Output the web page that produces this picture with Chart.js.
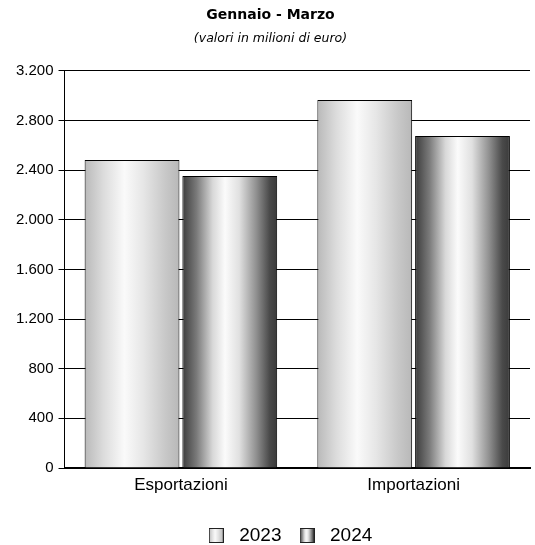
<!DOCTYPE html>
<html>
<head>
<meta charset="utf-8">
<script src="https://cdn.jsdelivr.net/npm/chart.js@4"></script>
<style>
  html, body { margin: 0; padding: 0; background: #fff; }
  #wrap { width: 535px; height: 545px; }
</style>
</head>
<body>
<div id="wrap"><canvas id="tradeChart"></canvas></div>
<script>
// =============================
// DATA
// =============================
const categories = ['Esportazioni', 'Importazioni'];
const years = ['2023', '2024'];
const values2023 = [2482, 2964];
const values2024 = [2353, 2675];
const yTicks = [0, 400, 800, 1200, 1600, 2000, 2400, 2800, 3200];

// gradient stops per serie (chiaro / scuro)
const stops = [
    [[0, '#b9b9b9'], [0.2, '#dcdcdc'], [0.42, '#fafafa'], [0.62, '#e6e6e6'], [0.85, '#c8c8c8'], [1, '#b8b8b8']],
    [[0, '#3c3c3c'], [0.15, '#7a7a7a'], [0.32, '#d8d8d8'], [0.45, '#fbfbfb'], [0.6, '#e0e0e0'], [0.78, '#909090'], [0.92, '#4a4a4a'], [1, '#3a3a3a']]
];

const FONT = "Arial, 'Liberation Sans', sans-serif";

function fmt(v){
    return String(v).replace(/\B(?=(\d{3})+(?!\d))/g, '.');
}

function makeGradient(c, x0, x1, idx){
    let g = c.createLinearGradient(x0, 0, x1, 0);
    stops[idx].forEach(s => g.addColorStop(s[0], s[1]));
    return g;
}

// legend swatch as small canvas
function swatch(idx){
    let cv = document.createElement('canvas');
    cv.width = 15; cv.height = 15;
    let c = cv.getContext('2d');
    c.fillStyle = makeGradient(c, 0, 15, idx);
    c.fillRect(0, 0, 15, 15);
    c.strokeStyle = '#222';
    c.lineWidth = 1;
    c.strokeRect(0.5, 0.5, 14, 14);
    return cv;
}

// =============================
// PLUGINS
// =============================
const barShade = {
    id: 'barShade',
    afterDatasetsUpdate(chart){
        chart.data.datasets.forEach((ds, di) => {
            chart.getDatasetMeta(di).data.forEach(el => {
                let x0 = el.x - el.width / 2, x1 = el.x + el.width / 2;
                el.options = Object.assign({}, el.options, { backgroundColor: makeGradient(chart.ctx, x0, x1, di) });
            });
        });
    }
};

// legend sits a bit right of the canvas centre in the original
const legendShift = {
    id: 'legendShift',
    afterLayout(chart){
        let lg = chart.legend;
        if(!lg) return;
        lg.left += 17;
        lg.right += 17;
    }
};

const ctx = document.getElementById('tradeChart');
new Chart(ctx, {
    type: 'bar',
    data: {
        labels: categories,
        datasets: [
            { label: years[0], data: values2023, borderColor: '#000', borderWidth: 1, pointStyle: swatch(0) },
            { label: years[1], data: values2024, borderColor: '#000', borderWidth: 1, pointStyle: swatch(1) }
        ]
    },
    options: {
        responsive: true,
        maintainAspectRatio: false,
        animation: false,
        categoryPercentage: 0.84,
        barPercentage: 0.97,
        layout: { padding: { left: 11, right: 5, top: 0, bottom: -10 } },
        plugins: {
            title: {
                display: true,
                text: 'Gennaio - Marzo',
                color: '#000',
                font: { family: "'DejaVu Sans', Verdana, sans-serif", size: 14, weight: 'bold' },
                padding: { top: 7, bottom: 7 }
            },
            subtitle: {
                display: true,
                text: '(valori in milioni di euro)',
                color: '#000',
                font: { family: "'DejaVu Sans', Verdana, sans-serif", size: 12.5, style: 'italic' },
                padding: { top: 0, bottom: 25 }
            },
            legend: {
                position: 'bottom',
                labels: {
                    usePointStyle: true,
                    pointStyleWidth: 27,
                    color: '#000',
                    font: { family: FONT, size: 19 },
                    padding: 12,
                    boxHeight: 15
                }
            },
            tooltip: { enabled: false }
        },
        scales: {
            x: {
                grid: { display: false, drawTicks: false },
                border: { display: true, color: '#000', width: 2 },
                ticks: { color: '#000', font: { family: FONT, size: 17 }, padding: 7 },
                afterFit: s => { s.height = 46; }
            },
            y: {
                min: 0,
                max: 3200,
                afterBuildTicks: axis => { axis.ticks = yTicks.map(v => ({ value: v })); },
                grid: { color: '#000', lineWidth: 1, tickLength: 6, drawTicks: true },
                border: { display: true, color: '#000', width: 1 },
                ticks: {
                    color: '#000',
                    font: { family: FONT, size: 15 },
                    padding: 5,
                    callback: v => fmt(v)
                }
            }
        }
    },
    plugins: [barShade, legendShift]
});
</script>
</body>
</html>
